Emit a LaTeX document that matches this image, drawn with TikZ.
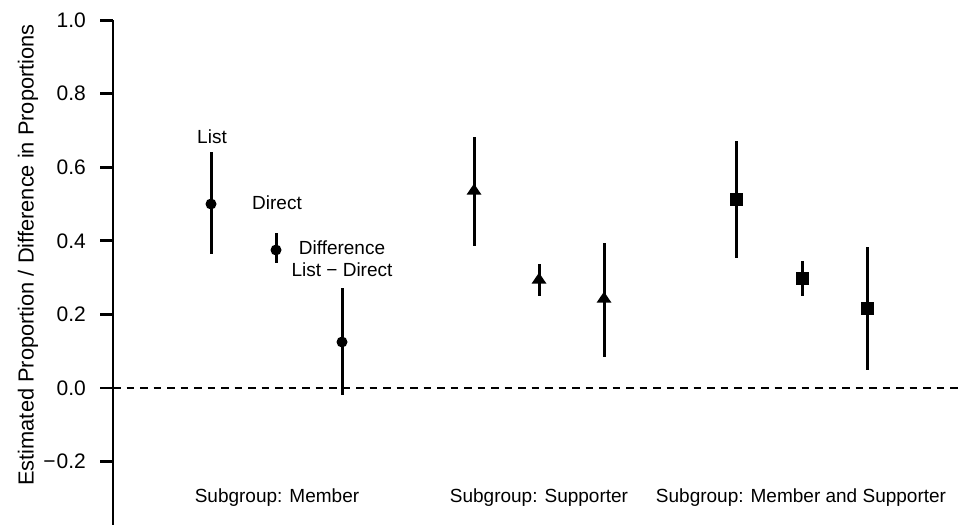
\documentclass[tikz,border=0pt]{standalone}
\usepackage{fontspec}
\setmainfont{Liberation Sans}
\begin{document}
\begin{tikzpicture}[x=1pt,y=-1pt,
  bar/.style={line width=3pt},
  axisline/.style={line width=2.8pt},
  zeroline/.style={line width=2.5pt, dash pattern=on 7.5pt off 6pt},
  lab/.style={font=\fontsize{19}{22}\selectfont, inner sep=0pt, align=center},
  ticklab/.style={font=\fontsize{21}{24}\selectfont, anchor=east, inner sep=0pt},
  ylab/.style={font=\fontsize{21.8}{24}\selectfont, inner sep=0pt, rotate=90},
  dotmark/.pic={\fill (0,0) circle[radius=5.5pt];},
  trimark/.pic={\fill (-7.5,3.7) -- (7.5,3.7) -- (0,-7.3) -- cycle;},
  sqmark/.pic={\fill (-6.5,-6.5) rectangle (6.5,6.5);}
]
\useasboundingbox (0,0) rectangle (958,525);
\newcommand\ebar[6]{%
  \coordinate (#1) at (#2,#4);
  \coordinate (#1lo) at (#2,#3);
  \coordinate (#1hi) at (#2,#5);
  \draw[bar] (#1lo) -- (#1hi);
  \pic at (#1) {#6};}

% axis
\coordinate (axtop) at (113,20);
\coordinate (axbot) at (113,525);
\draw[axisline] (axtop) -- (axbot);
\foreach \v/\t [count=\i] in {1.0/1.0,0.8/0.8,0.6/0.6,0.4/0.4,0.2/0.2,0.0/0.0,-0.2/{\char"2212\kern1pt 0.2}}{
  \coordinate (tk\i) at (113,{388-367.9*\v});
  \coordinate (tl\i) at (100,{388-367.9*\v});
  \draw[axisline] (tl\i) -- (tk\i);
  \node[ticklab] (lab\i) at (86,{388-367.9*\v}) {\t};
}
\node[ylab] (ylabel) at (28,255) {Estimated Proportion / Difference in Proportions};

% zero line
\coordinate (z0) at (113,388);
\coordinate (z1) at (958,388);
\draw[zeroline] (z0) -- (z1);

% Member
\ebar{a1}{211}{152}{204}{254}{dotmark}
\ebar{a2}{276}{233}{250}{263}{dotmark}
\ebar{a3}{342}{288}{342}{395}{dotmark}
% Supporter
\ebar{b1}{474}{137}{191}{246}{trimark}
\ebar{b2}{539}{264}{280}{296}{trimark}
\ebar{b3}{604}{243}{299}{357}{trimark}
% Member and Supporter
\ebar{c1}{736}{141}{199}{258}{sqmark}
\ebar{c2}{802}{261}{278}{296}{sqmark}
\ebar{c3}{867}{247}{308}{370}{sqmark}

% labels
\node[lab] (tList) at (212,137) {List};
\node[lab] (tDirect) at (277,203) {Direct};
\node[lab] (tDiff) at (342,248) {Difference};
\node[lab] (tLD) at (342,270) {List \char"2212{} Direct};
\node[lab] (g1) at (277,498) {Subgroup: Member};
\node[lab] (g2) at (539,498) {Subgroup: Supporter};
\node[lab] (g3) at (801,498) {Subgroup: Member and Supporter};
\end{tikzpicture}
\end{document}
